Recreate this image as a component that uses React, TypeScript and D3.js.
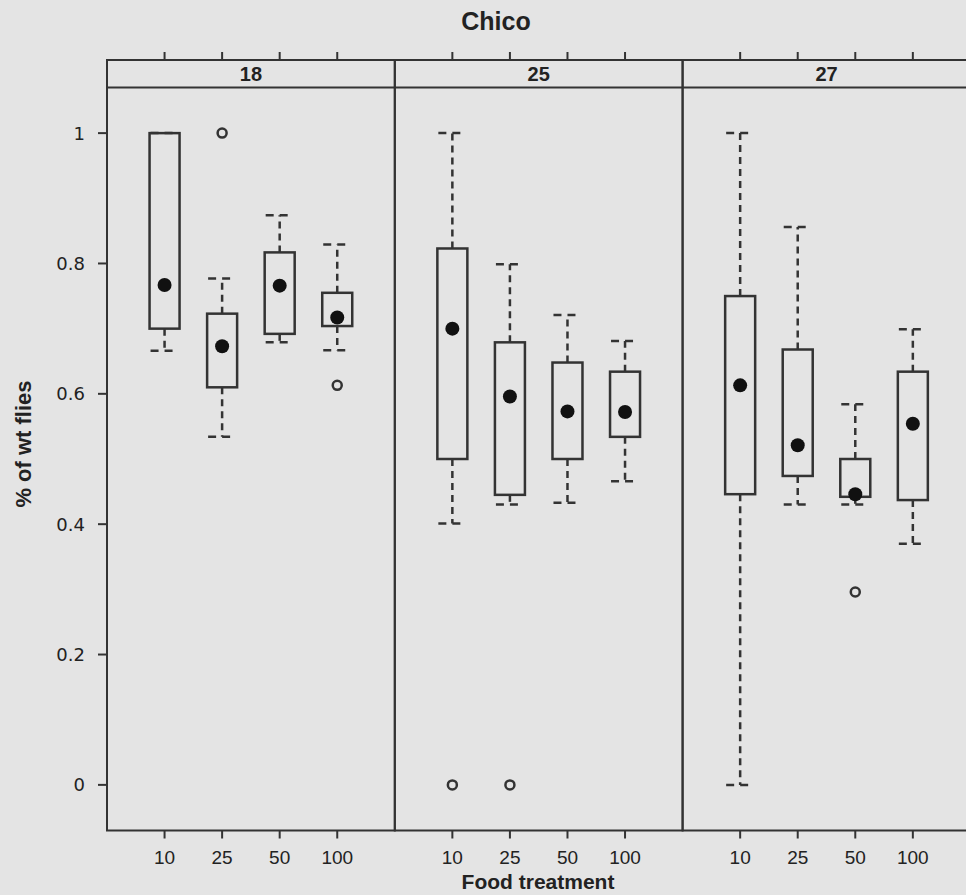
import React from "react";
import * as d3 from "d3";

// ---- data ----
const temps = ["18", "25", "27"];
const foods = ["10", "25", "50", "100"];
const yTicks = [0, 0.2, 0.4, 0.6, 0.8, 1];
const yTickLabels = ["0", "0.2", "0.4", "0.6", "0.8", "1"];

const whiskerLow = [
  [0.666, 0.534, 0.679, 0.667],
  [0.401, 0.43, 0.433, 0.466],
  [0.0, 0.43, 0.43, 0.37],
];
const q1 = [
  [0.7, 0.61, 0.692, 0.704],
  [0.5, 0.445, 0.5, 0.534],
  [0.446, 0.474, 0.442, 0.437],
];
const medians = [
  [0.767, 0.673, 0.766, 0.717],
  [0.7, 0.596, 0.573, 0.572],
  [0.613, 0.521, 0.446, 0.554],
];
const q3 = [
  [1.0, 0.723, 0.817, 0.755],
  [0.823, 0.679, 0.648, 0.634],
  [0.75, 0.668, 0.5, 0.634],
];
const whiskerHigh = [
  [1.0, 0.777, 0.874, 0.829],
  [1.0, 0.799, 0.721, 0.681],
  [1.0, 0.856, 0.584, 0.699],
];
const outliers = [
  [[], [1.0], [], [0.613]],
  [[0.0], [0.0], [], []],
  [[], [], [0.296], []],
];

const mainTitle = "Chico";
const xTitle = "Food treatment";
const yTitle = "% of wt flies";

// ---- layout ----
const W = 966;
const H = 895;
const panelLeft0 = 107;
const panelW = 287.8;
const stripTop = 60;
const plotTop = 87.5;
const plotBottom = 830.5;
const boxW = 30;
const capW = 28;
const ink = "#333";
const bg = "#e4e4e4";

export default function App() {
  const y = d3.scaleLinear().domain([-0.07, 1.07]).range([plotBottom, plotTop]);

  return (
    <svg
      width={W}
      height={H}
      style={{ position: "absolute", left: 0, top: 0 }}
      fontFamily="'Liberation Sans', Arial, sans-serif"
    >
      <rect x={0} y={0} width={W} height={H} fill={bg} />
      <text x={496} y={30} textAnchor="middle" fontWeight="bold" fontSize={25} fill="#222">
        {mainTitle}
      </text>

      {temps.map((t, ti) => {
        const left = panelLeft0 + ti * panelW;
        const x = d3.scalePoint<string>().domain(foods).range([left, left + panelW]).padding(1);
        return (
          <g key={t}>
            {/* panel frame + strip */}
            <rect x={left} y={stripTop} width={panelW} height={plotBottom - stripTop} fill="none" stroke={ink} strokeWidth={2} />
            <line x1={left} x2={left + panelW} y1={plotTop} y2={plotTop} stroke={ink} strokeWidth={2} />
            <text x={left + panelW / 2} y={81} textAnchor="middle" fontWeight="bold" fontSize={20} fill="#222">
              {t}
            </text>
            {/* top & bottom ticks */}
            {foods.map((f) => (
              <g key={f}>
                <line x1={x(f)} x2={x(f)} y1={stripTop} y2={stripTop - 8} stroke={ink} strokeWidth={2} />
                <line x1={x(f)} x2={x(f)} y1={plotBottom} y2={plotBottom + 8} stroke={ink} strokeWidth={2} />
                <text x={x(f)} y={864} textAnchor="middle" fontSize={19} fill="#222">
                  {f}
                </text>
              </g>
            ))}
            {/* boxes */}
            {foods.map((f, fi) => {
              const cx = x(f) as number;
              const lo = whiskerLow[ti][fi];
              const hi = whiskerHigh[ti][fi];
              const a = q1[ti][fi];
              const b = q3[ti][fi];
              const m = medians[ti][fi];
              return (
                <g key={f}>
                  {hi > b && (
                    <line x1={cx} x2={cx} y1={y(b)} y2={y(hi)} stroke={ink} strokeWidth={2.5} strokeDasharray="7 5" />
                  )}
                  {lo < a && (
                    <line x1={cx} x2={cx} y1={y(a)} y2={y(lo)} stroke={ink} strokeWidth={2.5} strokeDasharray="7 5" />
                  )}
                  <line x1={cx - capW / 2} x2={cx + capW / 2} y1={y(hi)} y2={y(hi)} stroke={ink} strokeWidth={2.5} strokeDasharray="8 6" />
                  <line x1={cx - capW / 2} x2={cx + capW / 2} y1={y(lo)} y2={y(lo)} stroke={ink} strokeWidth={2.5} strokeDasharray="8 6" />
                  <rect x={cx - boxW / 2} y={y(b)} width={boxW} height={y(a) - y(b)} fill="none" stroke={ink} strokeWidth={2.5} />
                  <circle cx={cx} cy={y(m)} r={7} fill="#111" />
                  {outliers[ti][fi].map((o, oi) => (
                    <circle key={oi} cx={cx} cy={y(o)} r={4.5} fill="none" stroke={ink} strokeWidth={2.5} />
                  ))}
                </g>
              );
            })}
          </g>
        );
      })}

      {/* left axis */}
      {yTicks.map((v, i) => (
        <g key={v}>
          <line x1={panelLeft0 - 9} x2={panelLeft0} y1={y(v)} y2={y(v)} stroke={ink} strokeWidth={2} />
          <text
            x={85}
            y={y(v)}
            textAnchor="end"
            dominantBaseline="central"
            fontFamily="'DejaVu Sans', sans-serif"
            fontSize={18}
            fill="#222"
          >
            {yTickLabels[i]}
          </text>
        </g>
      ))}

      <text x={538} y={889} textAnchor="middle" fontWeight="bold" fontSize={21} fill="#222">
        {xTitle}
      </text>
      <text
        transform="translate(31,444) rotate(-90)"
        textAnchor="middle"
        fontWeight="bold"
        fontSize={22}
        fill="#222"
      >
        {yTitle}
      </text>
    </svg>
  );
}
